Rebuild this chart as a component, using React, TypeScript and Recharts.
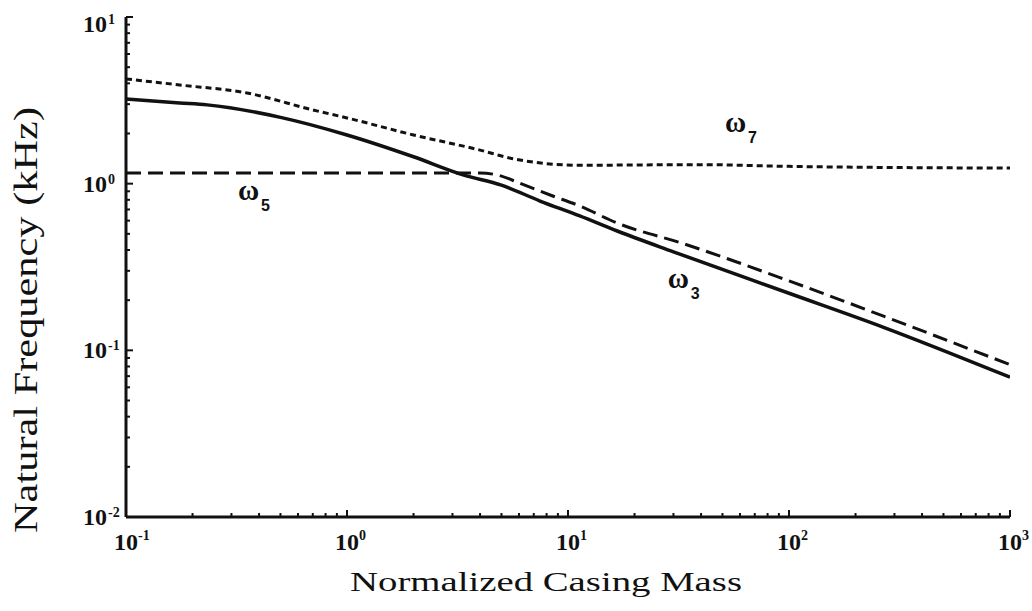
import React from "react";
import { LineChart, Line, XAxis, YAxis, ReferenceDot } from "recharts";

// Normalized casing mass vs natural frequency (kHz), log-log
const mass3 = [0.1, 0.175, 0.233, 0.5, 1, 2, 3.35, 5, 7.47, 11.3, 16.7, 30, 100, 266, 1000];
const freq3 = [3.22, 3.05, 2.97, 2.5, 1.96, 1.45, 1.13, 0.98, 0.787, 0.64, 0.52, 0.39, 0.22, 0.138, 0.069];

const mass5 = [0.1, 1, 3, 4, 5, 6, 8.3, 11.3, 16.7, 33, 100, 266, 1000];
const freq5 = [1.16, 1.16, 1.16, 1.16, 1.11, 1.01, 0.855, 0.735, 0.58, 0.438, 0.261, 0.161, 0.082];

const mass7 = [0.1, 0.175, 0.353, 0.7, 1, 2, 4, 5.64, 11.3, 40, 100, 1000];
const freq7 = [4.25, 3.91, 3.5, 2.77, 2.48, 1.96, 1.59, 1.41, 1.29, 1.3, 1.27, 1.24];

const xMajor = [0.1, 1, 10, 100, 1000];
const xExp = ["-1", "0", "1", "2", "3"];
const yMajor = [0.01, 0.1, 1, 10];
const yExp = ["-2", "-1", "0", "1"];
const minorSteps = [2, 3, 4, 5, 6, 7, 8, 9];

// mode label anchors (mass, freq)
const modeLabels = [
  { sub: "7", m: 51.3, f: 2.04 },
  { sub: "5", m: 0.321, f: 0.798 },
  { sub: "3", m: 28.3, f: 0.237 },
];

const toRows = (ms: number[], fs: number[]) => ms.map((m, i) => ({ m, f: fs[i] }));
const withMinors = (majors: number[]) => {
  const out: number[] = [];
  majors.forEach((v, i) => {
    out.push(v);
    if (i < majors.length - 1) minorSteps.forEach((s) => out.push(+(v * s).toPrecision(6)));
  });
  return out;
};
const xTicks = withMinors(xMajor);
const yTicks = withMinors(yMajor);

const FONT = "Liberation Serif, Times New Roman, Times, serif";
const INK = "#111";

const majorIdx = (list: number[], v: number) => list.findIndex((t) => Math.abs(t - v) / t < 1e-6);

function BottomTick(props: any) {
  const { x, y, payload } = props;
  const i = majorIdx(xMajor, payload.value);
  const major = i >= 0;
  return (
    <g>
      <line x1={x} x2={x} y1={y} y2={y - (major ? 7 : 4)} stroke={INK} strokeWidth={2} />
      {major && (
        <>
          <text x={x} y={y + 33} textAnchor="middle" fontFamily={FONT} fontWeight="bold" fontSize={24} fill={INK}>
            10
          </text>
          <text x={x + 12} y={y + 23} fontFamily={FONT} fontWeight="bold" fontSize={14} fill={INK}>
            {xExp[i]}
          </text>
        </>
      )}
    </g>
  );
}

function LeftTick(props: any) {
  const { x, y, payload } = props;
  const i = majorIdx(yMajor, payload.value);
  const major = i >= 0;
  const base = Math.max(y + 8, 32);
  return (
    <g>
      <line x1={x} x2={x + (major ? 7 : 4)} y1={y} y2={y} stroke={INK} strokeWidth={2} />
      {major && (
        <>
          <text x={x - 19} y={base} textAnchor="end" fontFamily={FONT} fontWeight="bold" fontSize={24} fill={INK}>
            10
          </text>
          <text x={x - 18} y={base - 8} fontFamily={FONT} fontWeight="bold" fontSize={14} fill={INK}>
            {yExp[i]}
          </text>
        </>
      )}
    </g>
  );
}

function TopTick(props: any) {
  const { x, y, payload } = props;
  const major = majorIdx(xMajor, payload.value) >= 0;
  return <line x1={x} x2={x} y1={y} y2={y + (major ? 6 : 3)} stroke={INK} strokeWidth={1.5} />;
}

function RightTick(props: any) {
  const { x, y, payload } = props;
  const major = majorIdx(yMajor, payload.value) >= 0;
  return <line x1={x} x2={x - (major ? 6 : 3)} y1={y} y2={y} stroke={INK} strokeWidth={1.5} />;
}

function XTitle(props: any) {
  const vb = props.viewBox;
  return (
    <text
      x={vb.x + vb.width / 2 - 22}
      y={vb.y + 74}
      textAnchor="middle"
      fontFamily={FONT}
      fontSize={27}
      textLength={392}
      lengthAdjust="spacingAndGlyphs"
      fill={INK}
    >
      Normalized Casing Mass
    </text>
  );
}

function YTitle(props: any) {
  const vb = props.viewBox;
  const cx = 37;
  const cy = vb.y + vb.height / 2 + 53;
  return (
    <text
      x={cx}
      y={cy}
      transform={`rotate(-90 ${cx} ${cy})`}
      textAnchor="middle"
      fontFamily={FONT}
      fontSize={34}
      textLength={426}
      lengthAdjust="spacingAndGlyphs"
      fill={INK}
    >
      Natural Frequency (kHz)
    </text>
  );
}

function OmegaLabel(props: any) {
  const vb = props.viewBox;
  return (
    <g>
      <text x={vb.x} y={vb.y} fontFamily={FONT} fontWeight="bold" fontSize={29} fill={INK}>
        ω
      </text>
      <text x={vb.x + 23} y={vb.y + 11} fontFamily="Liberation Sans, Arial, sans-serif" fontWeight="bold" fontSize={16} fill={INK}>
        {props.sub}
      </text>
    </g>
  );
}

export default function App() {
  return (
    <div style={{ position: "absolute", left: 0, top: 0, width: 1032, height: 611, background: "#fff" }}>
      <LineChart width={1032} height={611} margin={{ top: 17, right: 22, bottom: 0, left: 0 }}>
        <XAxis
          type="number"
          dataKey="m"
          scale="log"
          domain={[0.1, 1000]}
          allowDataOverflow
          ticks={xTicks}
          interval={0}
          tickSize={0}
          tickMargin={0}
          tick={<BottomTick />}
          height={94}
          axisLine={{ stroke: INK, strokeWidth: 3 }}
          label={<XTitle />}
        />
        <XAxis
          xAxisId="top"
          orientation="top"
          type="number"
          scale="log"
          domain={[0.1, 1000]}
          allowDataOverflow
          ticks={xTicks}
          interval={0}
          tickSize={0}
          tickMargin={0}
          tick={<TopTick />}
          height={0}
          axisLine={{ stroke: INK, strokeWidth: 2 }}
        />
        <YAxis
          type="number"
          scale="log"
          domain={[0.01, 10]}
          allowDataOverflow
          ticks={yTicks}
          interval={0}
          tickSize={0}
          tickMargin={0}
          tick={<LeftTick />}
          width={126}
          axisLine={{ stroke: INK, strokeWidth: 3 }}
          label={<YTitle />}
        />
        <YAxis
          yAxisId="right"
          orientation="right"
          type="number"
          scale="log"
          domain={[0.01, 10]}
          allowDataOverflow
          ticks={yTicks}
          interval={0}
          tickSize={0}
          tickMargin={0}
          tick={<RightTick />}
          width={0}
          axisLine={{ stroke: INK, strokeWidth: 3 }}
        />
        <Line
          data={toRows(mass7, freq7)}
          dataKey="f"
          type="monotone"
          stroke={INK}
          strokeWidth={3}
          strokeDasharray="6 4"
          dot={false}
          isAnimationActive={false}
        />
        <Line
          data={toRows(mass5, freq5)}
          dataKey="f"
          type="monotone"
          stroke={INK}
          strokeWidth={3}
          strokeDasharray="15 7"
          dot={false}
          isAnimationActive={false}
        />
        <Line
          data={toRows(mass3, freq3)}
          dataKey="f"
          type="monotone"
          stroke={INK}
          strokeWidth={3.5}
          dot={false}
          isAnimationActive={false}
        />
        {modeLabels.map((l) => (
          <ReferenceDot
            key={l.sub}
            x={l.m}
            y={l.f}
            r={0}
            fill="none"
            stroke="none"
            label={<OmegaLabel sub={l.sub} />}
          />
        ))}
      </LineChart>
    </div>
  );
}
